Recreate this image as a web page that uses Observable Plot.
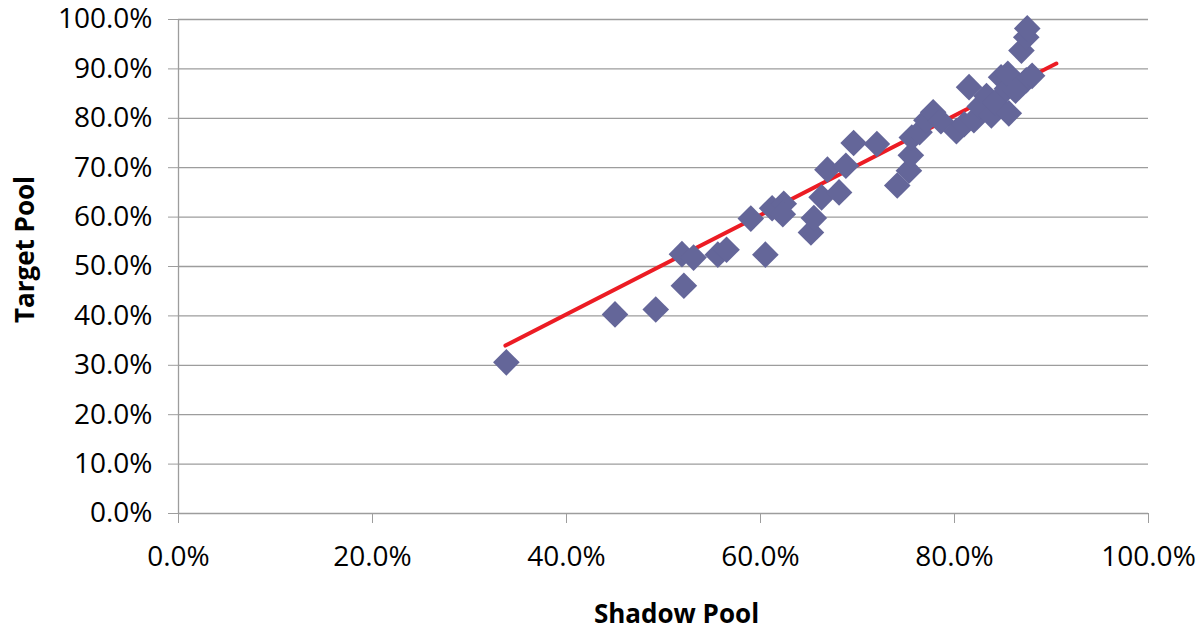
<!DOCTYPE html>
<html>
<head>
<meta charset="utf-8">
<script src="https://cdn.jsdelivr.net/npm/d3@7"></script>
<script src="https://cdn.jsdelivr.net/npm/@observablehq/plot@0.6"></script>
<style>
  html, body { margin: 0; padding: 0; background: #fff; }
  #chart { width: 1203px; height: 633px; }
</style>
</head>
<body>
<div id="chart"></div>
<script>
// Shadow Pool (x, %) and Target Pool (y, %) values
const shadowPool = [
  33.8, 45.0, 49.2, 52.1, 51.9, 53.1, 55.6, 56.5, 60.5, 59.0,
  61.2, 62.4, 62.3, 65.2, 65.5, 66.3, 66.9, 68.8, 68.1, 69.6,
  72.0, 74.1, 75.3, 75.5, 75.6, 76.4, 77.1, 77.8, 78.6, 80.2,
  81.0, 81.5, 82.0, 82.6, 83.3, 83.8, 84.2, 84.8, 85.6, 85.4,
  85.5, 86.9, 87.4, 87.5, 87.4, 88.0, 86.3
];
const targetPool = [
  30.6, 40.3, 41.3, 46.1, 52.5, 51.8, 52.4, 53.4, 52.4, 59.7,
  61.8, 62.7, 60.6, 56.9, 59.8, 64.0, 69.6, 70.4, 65.0, 75.0,
  74.8, 66.4, 69.4, 72.5, 76.1, 77.2, 79.6, 81.2, 79.4, 77.4,
  78.8, 86.3, 79.6, 82.4, 84.5, 80.6, 83.2, 88.3, 81.0, 86.0,
  89.0, 93.7, 96.4, 98.2, 87.7, 88.6, 85.6
];
// Linear trendline end points (x %, y %)
const trendX = [33.7, 90.5];
const trendY = [34.0, 91.1];
// Tick values
const xTicks = [0, 20, 40, 60, 80, 100];
const yTicks = [0, 10, 20, 30, 40, 50, 60, 70, 80, 90, 100];
const xTitle = "Shadow Pool";
const yTitle = "Target Pool";

const points = shadowPool.map((x, i) => ({x, y: targetPool[i]}));
const trend = trendX.map((x, i) => ({x, y: trendY[i]}));
const fmt = d => d.toFixed(1) + "%";

const chart = Plot.plot({
  width: 1203,
  height: 633,
  marginLeft: 178,
  marginRight: 55,
  marginTop: 19,
  marginBottom: 120,
  style: {fontFamily: "'Open Sans', sans-serif", fontSize: "28px", color: "#000", background: "#fff", overflow: "visible"},
  x: {domain: [0, 100]},
  y: {domain: [0, 100]},
  marks: [
    Plot.gridY(yTicks, {stroke: "#9d9d9d", strokeOpacity: 1, strokeWidth: 1.3}),
    Plot.ruleX([0], {stroke: "#9d9d9d", strokeWidth: 1.3}),
    Plot.axisY(yTicks, {tickSize: 10, tickPadding: 16, tickFormat: fmt, stroke: "#9d9d9d", label: null, fill: "#000", fontSize: 28}),
    Plot.axisX(xTicks, {tickSize: 10, tickPadding: 23, tickFormat: fmt, stroke: "#9d9d9d", label: null, fill: "#000", fontSize: 28}),
    Plot.line(trend, {x: "x", y: "y", stroke: "#ec1c24", strokeWidth: 4}),
    Plot.dot(points, {x: "x", y: "y", symbol: "diamond2", r: 12, fill: "#646699", stroke: "none"}),
    Plot.text([yTitle], {text: d => d, frameAnchor: "left", textAnchor: "middle", rotate: -90, dx: -153, dy: -17, fontWeight: "bold", fontSize: 26}),
    Plot.text([xTitle], {text: d => d, frameAnchor: "bottom", textAnchor: "middle", dx: 13, dy: 109, fontWeight: "bold", fontSize: 26})
  ]
});
document.getElementById("chart").appendChild(chart);
</script>
</body>
</html>
